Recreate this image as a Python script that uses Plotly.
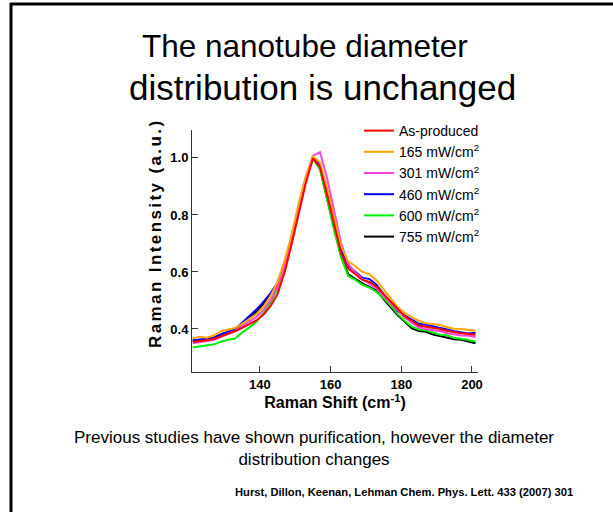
import plotly.graph_objects as go

# ---- data ----
raman_shift = [121, 123, 125, 127, 129, 131, 133, 135, 137, 139, 141, 143, 145, 147, 149,
               151, 153, 155, 157, 159, 161, 163, 165, 167, 169, 171, 173, 175, 177, 179,
               181, 183, 185, 187, 189, 191, 193, 195, 197, 199, 201]

as_produced = [0.355, 0.357, 0.360, 0.365, 0.374, 0.383, 0.392, 0.404, 0.416, 0.430, 0.450, 0.480,
               0.522, 0.598, 0.698, 0.808, 0.912, 0.998, 0.968, 0.870, 0.765, 0.665, 0.612, 0.592,
               0.572, 0.565, 0.548, 0.522, 0.496, 0.468, 0.444, 0.428, 0.412, 0.408, 0.404, 0.400,
               0.393, 0.388, 0.385, 0.382, 0.380]

mw165 = [0.367, 0.373, 0.369, 0.377, 0.392, 0.398, 0.403, 0.418, 0.435, 0.452, 0.478, 0.515,
         0.565, 0.640, 0.732, 0.842, 0.935, 1.005, 0.985, 0.895, 0.790, 0.690, 0.636, 0.620,
         0.600, 0.592, 0.570, 0.540, 0.510, 0.476, 0.455, 0.440, 0.428, 0.420, 0.417, 0.414,
         0.406, 0.401, 0.400, 0.396, 0.394]

mw301 = [0.350, 0.353, 0.358, 0.362, 0.372, 0.383, 0.393, 0.410, 0.425, 0.442, 0.466, 0.500,
         0.548, 0.622, 0.718, 0.830, 0.932, 1.008, 1.020, 0.930, 0.812, 0.700, 0.628, 0.598,
         0.575, 0.560, 0.542, 0.515, 0.490, 0.462, 0.440, 0.422, 0.405, 0.400, 0.397, 0.392,
         0.385, 0.380, 0.377, 0.376, 0.372]

mw460 = [0.360, 0.362, 0.366, 0.370, 0.382, 0.390, 0.400, 0.422, 0.445, 0.468, 0.495, 0.525,
         0.562, 0.632, 0.722, 0.832, 0.928, 1.000, 0.975, 0.885, 0.780, 0.680, 0.622, 0.602,
         0.580, 0.575, 0.555, 0.522, 0.495, 0.462, 0.447, 0.430, 0.418, 0.415, 0.410, 0.404,
         0.398, 0.392, 0.388, 0.384, 0.387]

mw600 = [0.335, 0.338, 0.341, 0.346, 0.355, 0.362, 0.366, 0.388, 0.405, 0.425, 0.455, 0.492,
         0.540, 0.615, 0.712, 0.822, 0.925, 0.998, 0.960, 0.855, 0.745, 0.650, 0.586, 0.572,
         0.555, 0.545, 0.530, 0.508, 0.482, 0.452, 0.428, 0.408, 0.398, 0.395, 0.388, 0.380,
         0.378, 0.368, 0.366, 0.360, 0.356]

mw755 = [0.358, 0.360, 0.364, 0.368, 0.380, 0.388, 0.398, 0.418, 0.440, 0.460, 0.488, 0.520,
         0.556, 0.628, 0.718, 0.828, 0.925, 1.000, 0.965, 0.860, 0.752, 0.655, 0.592, 0.575,
         0.560, 0.548, 0.535, 0.505, 0.478, 0.448, 0.425, 0.402, 0.393, 0.390, 0.380, 0.374,
         0.370, 0.364, 0.362, 0.355, 0.350]

series_names = ["As-produced", "165 mW/cm<sup>2</sup>", "301 mW/cm<sup>2</sup>",
                "460 mW/cm<sup>2</sup>", "600 mW/cm<sup>2</sup>", "755 mW/cm<sup>2</sup>"]
series_values = [as_produced, mw165, mw301, mw460, mw600, mw755]
series_colors = ["#ff0000", "#ffa500", "#ff44dd", "#0000ff", "#00ee00", "#000000"]

x_ticks = [140, 160, 180, 200]
y_ticks = [0.4, 0.6, 0.8, 1.0]
y_tick_text = ["0.4", "0.6", "0.8", "1.0"]

FONT = "Liberation Sans, Arial, sans-serif"

fig = go.Figure()
# draw last series first so that the first series ends on top; legend order kept by traceorder
for name, vals, col in reversed(list(zip(series_names, series_values, series_colors))):
    fig.add_trace(go.Scatter(x=raman_shift, y=vals, mode="lines", name=name,
                             line=dict(color=col, width=2)))

# plot area geometry (pixels)
L, R, T, B = 192, 135, 130, 140
W, H = 613, 512
pw, ph = W - L - R, H - T - B

def px_x(px):
    return (px - L) / pw

def px_y(py):
    return (H - B - py) / ph

def note(text, x, y, size, bold=False, xanchor="center", angle=0, align="center"):
    f = dict(size=size, family=FONT, color="black")
    if bold:
        f["weight"] = "bold"
    return dict(text=text, x=px_x(x), y=px_y(y), xref="paper", yref="paper",
                xanchor=xanchor, yanchor="middle", textangle=angle, align=align,
                showarrow=False, font=f)

fig.update_layout(
    width=W, height=H,
    margin=dict(l=L, r=R, t=T, b=B, autoexpand=False),
    paper_bgcolor="white", plot_bgcolor="white",
    font=dict(family=FONT, color="black"),
    showlegend=True,
    legend=dict(x=px_x(359), y=px_y(115), xanchor="left", yanchor="top",
                traceorder="reversed",
                bgcolor="rgba(0,0,0,0)", font=dict(size=14, family=FONT),
                itemwidth=30, tracegroupgap=0),
    xaxis=dict(range=[120.8, 201.7], tickvals=x_ticks, ticks="inside", ticklen=6,
               tickcolor="#333", showline=True, linecolor="#333", linewidth=1,
               showgrid=False, zeroline=False,
               tickfont=dict(size=13, weight="bold", family=FONT),
               title=dict(text="Raman Shift (cm<sup>-1</sup>)",
                          font=dict(size=16, weight="bold", family=FONT), standoff=0)),
    yaxis=dict(range=[0.249, 1.098], tickvals=y_ticks, ticktext=y_tick_text,
               ticks="inside", ticklen=6, tickcolor="#333",
               showline=True, linecolor="#333", linewidth=1,
               showgrid=False, zeroline=False,
               tickfont=dict(size=13, weight="bold", family=FONT)),
    annotations=[
        note('<span style="letter-spacing:2.4px">Raman Intensity (a.u.)</span>',
             155, 234, 17, bold=True, angle=-90),
        note("The nanotube diameter", 305, 46, 31.5),
        note("distribution is unchanged", 322, 88, 35),
        note("Previous studies have shown purification, however the diameter<br>distribution changes",
             314, 448, 17),
        note("Hurst, Dillon, Keenan, Lehman Chem. Phys. Lett. 433 (2007) 301",
             575, 492, 11.2, bold=True, xanchor="right"),
    ],
    shapes=[
        dict(type="line", xref="paper", yref="paper", x0=px_x(10), x1=px_x(613),
             y0=px_y(4), y1=px_y(4), line=dict(color="black", width=3)),
        dict(type="line", xref="paper", yref="paper", x0=px_x(11), x1=px_x(11),
             y0=px_y(3), y1=px_y(512), line=dict(color="black", width=3)),
    ],
)

fig.write_html("out.html",
               config={"displayModeBar": False},
               post_script="document.body.style.margin='0';document.body.style.overflow='hidden';")
